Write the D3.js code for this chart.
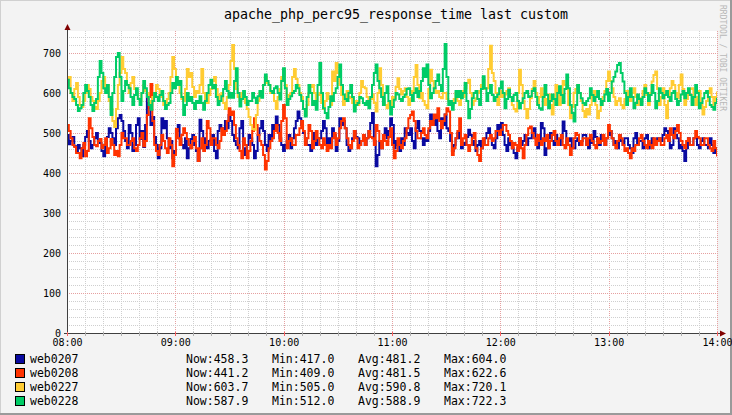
<!DOCTYPE html>
<html><head><meta charset="utf-8">
<script src="https://cdn.jsdelivr.net/npm/d3@7"></script>
<style>
html,body{margin:0;padding:0;background:#f3f3f3;}
svg{display:block;}
text{font-family:"DejaVu Sans Mono",monospace;}
</style></head>
<body><svg id="c" width="732" height="415"></svg>
<script>
const title = "apache_php_perc95_response_time last custom";
const watermark = "RRDTOOL / TOBI OETIKER";
const startTime = "2020-01-01T08:00:00";
const endTime = "2020-01-01T14:00:00";
const yTicks = [0,100,200,300,400,500,600,700];
const seriesNames = ["web0207","web0208","web0227","web0228"];
const seriesColors = ["#0a0aa0","#ff3300","#ffcc33","#00cc66"];

const web0207 = [495,472,480,490,467,455,470,462,442,470,490,505,480,462,470,487,500,480,475,455,442,465,490,512,500,487,470,512,537,545,530,505,480,462,520,500,455,470,520,537,485,505,465,520,600,562,520,540,490,470,437,462,537,512,530,487,462,480,437,455,505,520,485,470,462,487,437,462,485,495,470,455,430,
533,505,487,470,462,480,483,495,455,437,505,520,512,495,530,512,545,530,495,480,470,462,512,530,462,445,470,495,487,470,437,455,495,512,530,505,470,455,495,480,520,505,541,520,487,470,455,470,480,495,462,487,512,530,554,537,520,500,487,470,470,455,480,500,470,487,487,505,530,512,470,
487,470,512,495,455,480,537,520,530,512,470,455,462,487,505,490,487,470,480,495,470,487,505,525,550,480,417,445,480,462,495,512,487,505,537,520,462,480,470,455,487,470,512,500,495,512,480,462,512,530,505,487,470,487,480,505,546,530,520,537,505,487,537,520,546,512,505,480,455,470,487,
500,487,462,475,470,490,508,495,470,480,455,470,480,462,470,487,500,512,487,470,462,487,520,505,525,495,470,455,487,470,462,450,437,462,487,470,480,495,470,487,487,500,512,487,462,480,525,512,445,462,487,500,480,470,495,480,470,487,529,505,470,480,487,462,462,480,487,470,480,495,495,
470,462,487,475,505,490,480,470,495,480,470,487,495,505,487,470,480,462,495,480,470,487,487,470,462,450,487,500,470,480,480,462,487,495,462,475,487,470,470,487,487,480,495,512,505,487,462,470,512,495,487,462,470,455,430,462,487,470,470,487,487,470,462,480,487,470,470,462,487,470,450,462,458.3];
const web0208 = [520,505,487,470,465,450,450,437,462,475,442,455,537,512,490,470,467,480,485,462,470,487,450,462,485,470,445,455,442,470,500,487,487,470,470,480,487,462,455,470,487,500,467,480,545,590,622.6,530,470,455,445,470,495,480,462,450,487,470,417,445,510,487,470,495,512,500,485,470,462,480,490,462,430,
462,487,455,470,530,512,470,487,487,470,462,480,512,495,505,530,562,545,554,520,487,470,455,437,487,470,437,455,480,505,537,520,495,480,470,445,409,430,462,480,487,505,520,500,480,530,570,537,462,480,487,470,470,495,495,512,530,505,470,487,520,505,462,480,505,487,470,462,487,470,455,
470,462,487,500,470,487,512,530,537,512,487,470,462,480,505,487,462,470,480,495,470,487,505,490,487,470,520,505,480,462,495,480,470,490,512,470,437,455,487,470,462,480,487,512,537,545,554,530,505,487,487,500,512,495,487,512,530,520,546,537,562,530,512,530,546,562,554,500,445,462,487,
505,537,470,487,495,470,455,470,487,500,462,445,430,462,487,470,470,487,495,480,487,505,505,495,508,520,520,505,495,480,462,475,470,455,487,462,437,470,495,512,516,500,487,470,495,480,470,487,480,495,462,480,495,505,480,470,487,495,470,462,487,470,445,462,487,500,495,480,470,487,487,
470,487,495,480,470,462,487,475,480,495,470,487,520,505,487,470,462,480,495,487,470,455,462,450,437,462,455,470,470,487,495,480,470,462,480,470,462,487,470,480,487,470,470,487,495,480,512,495,487,505,520,500,480,470,462,480,487,470,470,487,505,490,487,470,470,487,487,470,462,455,480,462,441.2];
const web0227 = [620,640,600,580,610,625,590,570,565,580,600,620,610,590,580,565,560,580,600,630,640,612,620,580,560,530,515,560,620,650,690,660,650,620,600,625,640,610,600,585,580,600,620,605,600,580,570,590,600,620,610,595,590,570,570,585,600,640,690,660,640,620,600,585,580,610,660,640,650,615,590,605,600,
620,660,600,585,575,595,610,630,640,610,580,595,600,575,560,590,620,680,720.1,660,610,590,580,600,600,575,560,540,520,510,508,545,580,600,600,620,640,625,620,600,600,580,560,590,610,640,660,620,580,595,600,640,660,635,620,600,590,560,545,570,600,615,620,600,580,595,600,575,560,580,600,
585,570,654,630,675,650,620,595,570,585,605,590,587,575,562,580,570,600,630,615,612,590,570,585,596,575,554,600,662,620,587,570,562,575,570,590,587,615,637,610,596,605,612,590,570,585,605,640,670,620,587,600,580,570,562,610,658,630,612,600,605,590,587,600,600,585,580,570,570,585,600,
580,570,605,590,612,625,633,600,570,580,587,600,605,620,633,610,612,660,718,650,630,600,570,590,605,590,596,605,612,590,570,560,554,600,658,620,580,560,537,560,587,610,630,600,570,590,612,595,570,585,596,570,546,585,620,600,570,600,630,620,612,570,537,565,600,610,620,600,580,555,540,
560,546,570,590,605,570,537,555,570,590,605,630,654,630,612,590,570,580,587,570,562,585,605,595,580,600,612,590,570,580,587,605,620,595,570,600,629,645,654,610,570,590,612,570,537,580,612,630,620,600,587,620,646,610,570,585,596,610,612,590,570,590,605,570,546,565,580,600,612,590,570,590,603.7];
const web0228 = [633,612,600,590,585,570,555,562,570,600,620,605,590,570,555,575,585,640,680,650,612,600,620,590,545,600,640,690,700,640,580,605,630,620,612,590,570,595,612,585,570,600,630,612,590,570,558,580,600,590,580,595,605,580,560,570,575,600,625,612,640,620,630,590,545,570,600,580,590,575,560,580,575,
592,575,558,580,600,620,633,612,620,590,570,580,592,610,630,605,588,600,588,630,662,600,566,585,605,590,570,580,580,600,588,575,592,605,588,620,646,630,620,605,600,612,617,600,584,630,662,612,570,585,592,600,605,620,612,595,580,560,541,590,620,600,570,580,558,620,675,600,562,550,537,
565,592,580,600,612,640,671,620,596,585,580,600,620,590,554,570,575,590,587,575,570,580,562,590,620,650,671,630,612,590,570,600,617,580,546,565,583,600,596,585,580,590,596,610,612,595,580,600,612,590,605,630,662,640,671,620,587,600,612,630,646,620,605,660,722.3,640,570,580,558,575,605,
590,605,587,600,625,580,537,560,587,600,605,585,570,610,642,612,580,600,620,595,580,590,596,612,629,600,562,585,608,590,580,595,600,580,562,575,587,600,605,590,592,605,612,590,570,562,558,590,620,595,562,580,596,585,570,600,617,595,575,610,646,612,570,550,529,570,620,600,587,575,570,
580,587,612,595,580,590,605,585,570,580,596,610,580,600,629,640,654,670,675,650,629,600,570,590,612,590,562,575,596,585,570,590,612,600,580,595,620,600,562,580,612,600,587,595,605,590,580,600,605,585,570,580,596,605,587,600,612,595,570,590,620,600,562,575,587,600,605,590,570,565,558,575,587.9];
const legendNow = ["458.3","441.2","603.7","587.9"];
const legendMin = ["417.0","409.0","505.0","512.0"];
const legendAvg = ["481.2","481.5","590.8","588.9"];
const legendMax = ["604.0","622.6","720.1","722.3"];

const allSeries = [web0207, web0208, web0227, web0228];
const W = 732, H = 415;
const L = 67, R = 717, T = 33, B = 333;
const svg = d3.select("#c");

// frame
svg.append("rect").attr("x",0).attr("y",0).attr("width",W).attr("height",H).attr("fill","#f3f3f3");
svg.append("line").attr("x1",0).attr("y1",0.5).attr("x2",W).attr("y2",0.5).attr("stroke","#d0d0d0");
svg.append("line").attr("x1",0.5).attr("y1",0).attr("x2",0.5).attr("y2",H).attr("stroke","#d0d0d0");
svg.append("line").attr("x1",0).attr("y1",H-1).attr("x2",W).attr("y2",H-1).attr("stroke","#9a9a9a").attr("stroke-width",2);
svg.append("line").attr("x1",W-1).attr("y1",0).attr("x2",W-1).attr("y2",H).attr("stroke","#9a9a9a").attr("stroke-width",2);

const t0 = new Date(startTime), t1 = new Date(endTime);
const x = d3.scaleTime().domain([t0,t1]).range([L,R]);
const y = d3.scaleLinear().domain([0,750]).range([B,T]);

// plot bg
svg.append("rect").attr("x",L).attr("y",T-2).attr("width",R-L).attr("height",B-T+2).attr("fill","#ffffff");

// grid
const g = svg.append("g");
const minorX = d3.timeMinute.every(10).range(t0, d3.timeMinute.offset(t1,1));
minorX.forEach(d=>{
  const major = d.getMinutes()===0;
  const xx = Math.round(x(d))+0.5;
  g.append("line").attr("x1",xx).attr("x2",xx).attr("y1",T-2).attr("y2",B)
   .attr("stroke", major? "#e6a0a0":"#cfcfcf").attr("stroke-dasharray","1,1");
});
d3.range(20,750,20).forEach(v=>{
  const major = v%100===0;
  const yy = Math.round(y(v))+0.5;
  g.append("line").attr("x1",L).attr("x2",R).attr("y1",yy).attr("y2",yy)
   .attr("stroke", major? "#e6a0a0":"#cfcfcf").attr("stroke-dasharray","1,1");
});

// series
svg.append("clipPath").attr("id","clip").append("rect").attr("x",L).attr("y",T-2).attr("width",R-L).attr("height",B-T+2);
allSeries.forEach((s,k)=>{
  const n = s.length;
  const stepMs = (t1 - t0)/(n-1);
  const pts = s.map((v,i)=>[new Date(+t0 + i*stepMs), v]);
  const line = d3.line().x(d=>x(d[0])).y(d=>y(d[1])).curve(d3.curveStepAfter);
  svg.append("path").attr("d",line(pts)).attr("fill","none").attr("stroke",seriesColors[k])
    .attr("stroke-width",2).attr("clip-path","url(#clip)");
});

// axes lines
svg.append("line").attr("x1",L-3).attr("x2",R+5).attr("y1",B+0.5).attr("y2",B+0.5).attr("stroke","#404040");
svg.append("line").attr("x1",L+0.5).attr("x2",L+0.5).attr("y1",B+3).attr("y2",T-4).attr("stroke","#404040");
svg.append("path").attr("d",`M${R+3},${B-2.5}L${R+9},${B+0.5}L${R+3},${B+3.5}Z`).attr("fill","#800000");
svg.append("path").attr("d",`M${L-2.5},${T-3}L${L+0.5},${T-9}L${L+3.5},${T-3}Z`).attr("fill","#800000");
minorX.forEach(d=>{
  const major = d.getMinutes()===0;
  const xx = Math.round(x(d))+0.5;
  svg.append("line").attr("x1",xx).attr("x2",xx).attr("y1",B-1).attr("y2",B+3)
   .attr("stroke", major? "#ff6060":"#b0b0b0");
});

// tick labels via d3 axes
const xAxis = d3.axisBottom(x).ticks(d3.timeHour.every(1)).tickFormat(d3.timeFormat("%H:%M")).tickSize(0).tickPadding(5);
const gx = svg.append("g").attr("transform",`translate(0,${B+1})`).call(xAxis);
gx.select(".domain").remove();
gx.selectAll("text").attr("font-family","DejaVu Sans Mono").attr("font-size","10px").attr("fill","#000");

const yAxis = d3.axisLeft(y).tickValues(yTicks).tickFormat(d3.format("d")).tickSize(0).tickPadding(6);
const gy = svg.append("g").attr("transform",`translate(${L},0)`).call(yAxis);
gy.select(".domain").remove();
gy.selectAll("text").attr("font-family","DejaVu Sans Mono").attr("font-size","10px").attr("fill","#000");

// title
svg.append("text").attr("x",396).attr("y",19).attr("text-anchor","middle")
  .attr("font-size","13.3px").attr("fill","#000").text(title);
// watermark
svg.append("text").attr("transform","translate(720,5) rotate(90)").attr("font-size","8px")
  .attr("fill","#b8b8b8").attr("text-anchor","start").text(watermark);

// legend
seriesNames.forEach((nm,k)=>{
  const cy = 359 + k*14;
  svg.append("rect").attr("x",15.5).attr("y",cy-4.5).attr("width",9).attr("height",9)
    .attr("fill",seriesColors[k]).attr("stroke","#000");
  const ty = cy+4;
  const fs = "11.5px";
  svg.append("text").attr("x",30).attr("y",ty).attr("font-size",fs).text(nm);
  svg.append("text").attr("x",186).attr("y",ty).attr("font-size",fs).text("Now:"+legendNow[k]);
  svg.append("text").attr("x",272).attr("y",ty).attr("font-size",fs).text("Min:"+legendMin[k]);
  svg.append("text").attr("x",358).attr("y",ty).attr("font-size",fs).text("Avg:"+legendAvg[k]);
  svg.append("text").attr("x",444).attr("y",ty).attr("font-size",fs).text("Max:"+legendMax[k]);
});
</script></body></html>
